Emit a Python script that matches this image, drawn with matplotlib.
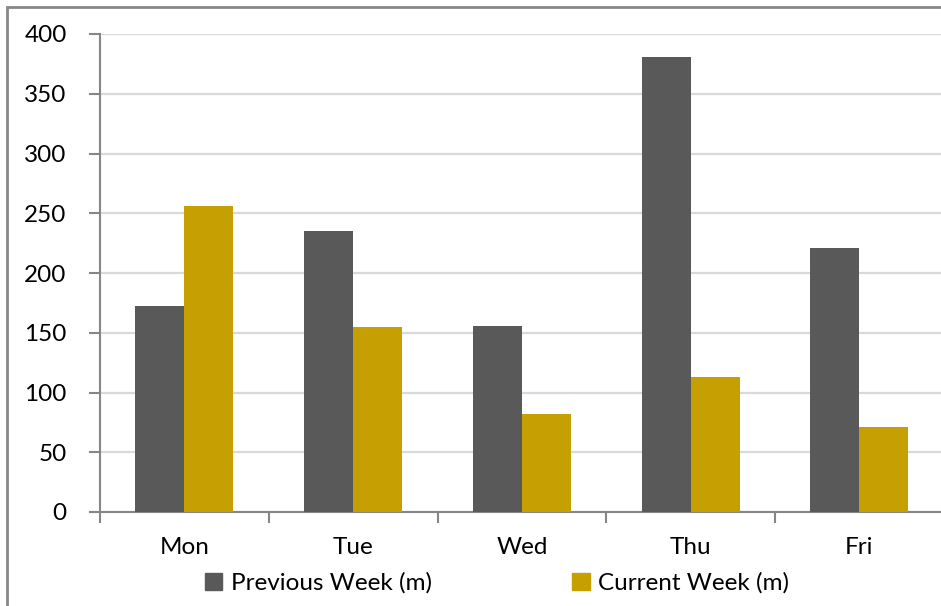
import matplotlib
matplotlib.use("Agg")
import matplotlib.pyplot as plt
import numpy as np
from matplotlib.patches import Rectangle, Patch

days = ["Mon", "Tue", "Wed", "Thu", "Fri"]
previous_week = [172, 235, 156, 381, 221]
current_week = [256, 155, 82, 113, 71]
series_names = ["Previous Week (m)", "Current Week (m)"]
y_ticks = [0, 50, 100, 150, 200, 250, 300, 350, 400]

plt.rcParams["font.family"] = ["Lato", "DejaVu Sans"]

W, H = 941, 606
fig = plt.figure(figsize=(W / 100, H / 100), dpi=100)
fig.patch.set_facecolor("white")

# chart-area frame
fig.add_artist(Rectangle((6.5 / W, -0.05), 1.1, 1 - 6.5 / H + 0.05,
                         transform=fig.transFigure, fill=False,
                         edgecolor="#878787", linewidth=2))

left, right = 100 / W, 943.75 / W
bottom, top = 1 - 512 / H, 1 - 34 / H
ax = fig.add_axes([left, bottom, right - left, top - bottom])

x = np.arange(len(days))
bw = 0.29
c_prev, c_curr = "#595959", "#c69f03"
ax.bar(x - bw / 2, previous_week, bw, color=c_prev, zorder=3)
ax.bar(x + bw / 2, current_week, bw, color=c_curr, zorder=3)

fs = 17.5
ax.set_xlim(-0.5, len(days) - 0.5)
ax.set_ylim(0, 400)
ax.set_yticks(y_ticks)
ax.set_yticklabels([str(v) for v in y_ticks], fontsize=fs)
ax.yaxis.grid(True, color="#d9d9d9", linewidth=1.6, zorder=0)
ax.set_axisbelow(True)

# category boundary ticks, labels centred in each slot
ax.set_xticks(np.arange(len(days) + 1) - 0.5)
ax.set_xticklabels([])
ax.set_xticks(x, minor=True)
ax.set_xticklabels(days, minor=True, fontsize=fs)
ax.tick_params(axis="x", which="minor", length=0, pad=18)
ax.tick_params(axis="x", which="major", length=8, color="#868686", width=1.5)
ax.tick_params(axis="y", length=8, color="#868686", width=1.5, pad=16)

for s in ["top", "right"]:
    ax.spines[s].set_visible(False)
for s in ["left", "bottom"]:
    ax.spines[s].set_color("#868686")
    ax.spines[s].set_linewidth(1.5)

handles = [Patch(color=c_prev), Patch(color=c_curr)]
fig.legend(handles, series_names, loc="center", bbox_to_anchor=(497 / W, 1 - 583 / H),
           ncol=2, frameon=False, fontsize=fs, handlelength=0.7, handleheight=0.7,
           handletextpad=0.35, columnspacing=5.8)

fig.savefig("out.png", dpi=100, facecolor="white")
